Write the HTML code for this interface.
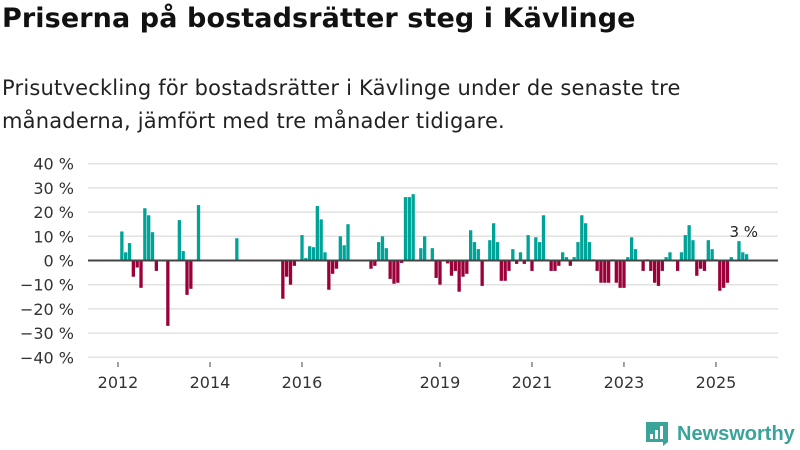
<!DOCTYPE html>
<html><head><meta charset="utf-8"><style>
body{margin:0;background:#fff;font-family:"DejaVu Sans",sans-serif;}
#wrap{position:relative;width:800px;height:450px;overflow:hidden;}
h1{position:absolute;left:2px;top:3px;margin:0;font-size:27px;font-weight:bold;color:#111;font-family:"DejaVu Sans",sans-serif;letter-spacing:0.1px;}
p.sub{position:absolute;left:2px;top:72px;margin:0;font-size:21px;line-height:33px;color:#222;font-family:"DejaVu Sans",sans-serif;letter-spacing:0.2px;}
</style></head><body>
<div id="wrap">
<h1>Priserna på bostadsrätter steg i Kävlinge</h1>
<p class="sub">Prisutveckling för bostadsrätter i Kävlinge under de senaste tre<br>månaderna, jämfört med tre månader tidigare.</p>
<svg id="chart" width="800" height="450" style="position:absolute;left:0;top:0"></svg>
</div>
<script>
const yTicks=[40,30,20,10,0,-10,-20,-30,-40];
const yTickLabels=["40 %","30 %","20 %","10 %","0 %","−10 %","−20 %","−30 %","−40 %"];
const xTickYears=[2012,2014,2016,2019,2021,2023,2025];
const startYear=2012;
const values=[12,3.4,7.2,-6.7,-2.9,-11.3,21.6,18.7,11.7,-4.3,
null,null,-27,null,null,16.7,3.9,-14.2,-11.7,null,
22.9,null,null,null,null,null,null,null,null,null,
9.2,null,null,null,null,null,null,null,null,null,
null,null,-15.8,-6.7,-10,-2.2,null,10.5,1,5.9,
5.5,22.5,17,3.4,-12.1,-5.5,-3.4,10,6.3,15,
null,null,null,null,null,-3.4,-2.2,7.6,10,5.1,
-7.6,-9.6,-9.2,-1,26.2,26.2,27.4,null,5.1,10,
null,5.1,-7.2,-10,null,-1.2,-6.3,-4.3,-12.9,-6.7,
-5.5,12.5,7.6,4.7,-10.5,null,8.4,15.4,7.6,-8.4,
-8.4,-4.3,4.7,-1.4,3.4,-1.4,10.5,-4.3,9.6,7.6,
18.7,0.5,-4.3,-4.3,-2.2,3.4,1.4,-2.2,1.4,7.6,
18.7,15.4,7.6,0.5,-4.3,-9.2,-9.2,-9.2,0.5,-9.2,
-11.3,-11.3,1.4,9.6,4.7,null,-4.3,0.5,-4.3,-9.2,
-10.5,-4.3,1.4,3.4,null,-4.3,3.4,10.5,14.6,8.4,
-6.3,-3.4,-4.3,8.4,4.7,0.5,-12.5,-11.3,-9.2,1.4,
null,8,3.4,2.6];
const lastLabel="3 %";

const NS="http://www.w3.org/2000/svg";
const FONT="DejaVu Sans, sans-serif";
const svg=document.getElementById('chart');
const yS=v=>260.5-v*2.42;
const xS=m=>118+m*3.833;
const mk=(t,a)=>{const e=document.createElementNS(NS,t);for(const k in a)e.setAttribute(k,a[k]);svg.appendChild(e);return e;};
yTicks.forEach((t,i)=>{
  if(t!==0){const l=mk('line',{x1:88,x2:778,y1:yS(t),y2:yS(t),stroke:'#e2e2e2','stroke-width':1.5});
  
  }
  const tx=mk('text',{x:74,y:yS(t)+6,'text-anchor':'end','font-size':16,fill:'#333','font-family':FONT});
  tx.textContent=yTickLabels[i];
  
  
});
values.forEach((v,m)=>{
  if(v===null||v===undefined)return;
  const c=xS(m)+3.8;
  const y0=yS(0),y1=yS(v);
  const r=mk('rect',{x:c-1.6,width:3.3,y:Math.min(y0,y1),height:Math.abs(y1-y0),fill:v>=0?'#00a398':'#9b0039'});
  
  
});
const z=mk('line',{x1:88,x2:778,y1:yS(0),y2:yS(0),stroke:'#444','stroke-width':2});


xTickYears.forEach(yr=>{
  const x=xS((yr-startYear)*12);
  const t=mk('line',{x1:x,x2:x,y1:362,y2:367,stroke:'#444','stroke-width':1});
  
  
  const tx=mk('text',{x:x,y:388,'text-anchor':'middle','font-size':16,fill:'#333','font-family':FONT});
  tx.textContent=yr;
  
  
});
const li=values.length-1;
const lab=mk('text',{x:xS(li)+1,y:yS(values[li])-17,'text-anchor':'middle','font-size':15,fill:'#222','font-family':FONT});
lab.textContent=lastLabel;


const g=mk('g',{});


const ic=document.createElementNS(NS,'path');
ic.setAttribute('d','M646 422 h22 v20 l-5 4 v-4 h-17 z');ic.setAttribute('fill','#3aa39a');g.appendChild(ic);
[[650,434,3,5],[655,430,3,9],[660,426,3,13]].forEach(b=>{const r=document.createElementNS(NS,'rect');r.setAttribute('x',b[0]);r.setAttribute('y',b[1]);r.setAttribute('width',b[2]);r.setAttribute('height',b[3]);r.setAttribute('fill','#fff');g.appendChild(r);});
const lt=document.createElementNS(NS,'text');
lt.setAttribute('x',677);lt.setAttribute('y',440);lt.setAttribute('font-size',20);lt.setAttribute('font-weight','bold');lt.setAttribute('fill','#3aa39a');lt.setAttribute('font-family','Liberation Sans, sans-serif');
lt.textContent='Newsworthy';g.appendChild(lt);
</script>
</body></html>
